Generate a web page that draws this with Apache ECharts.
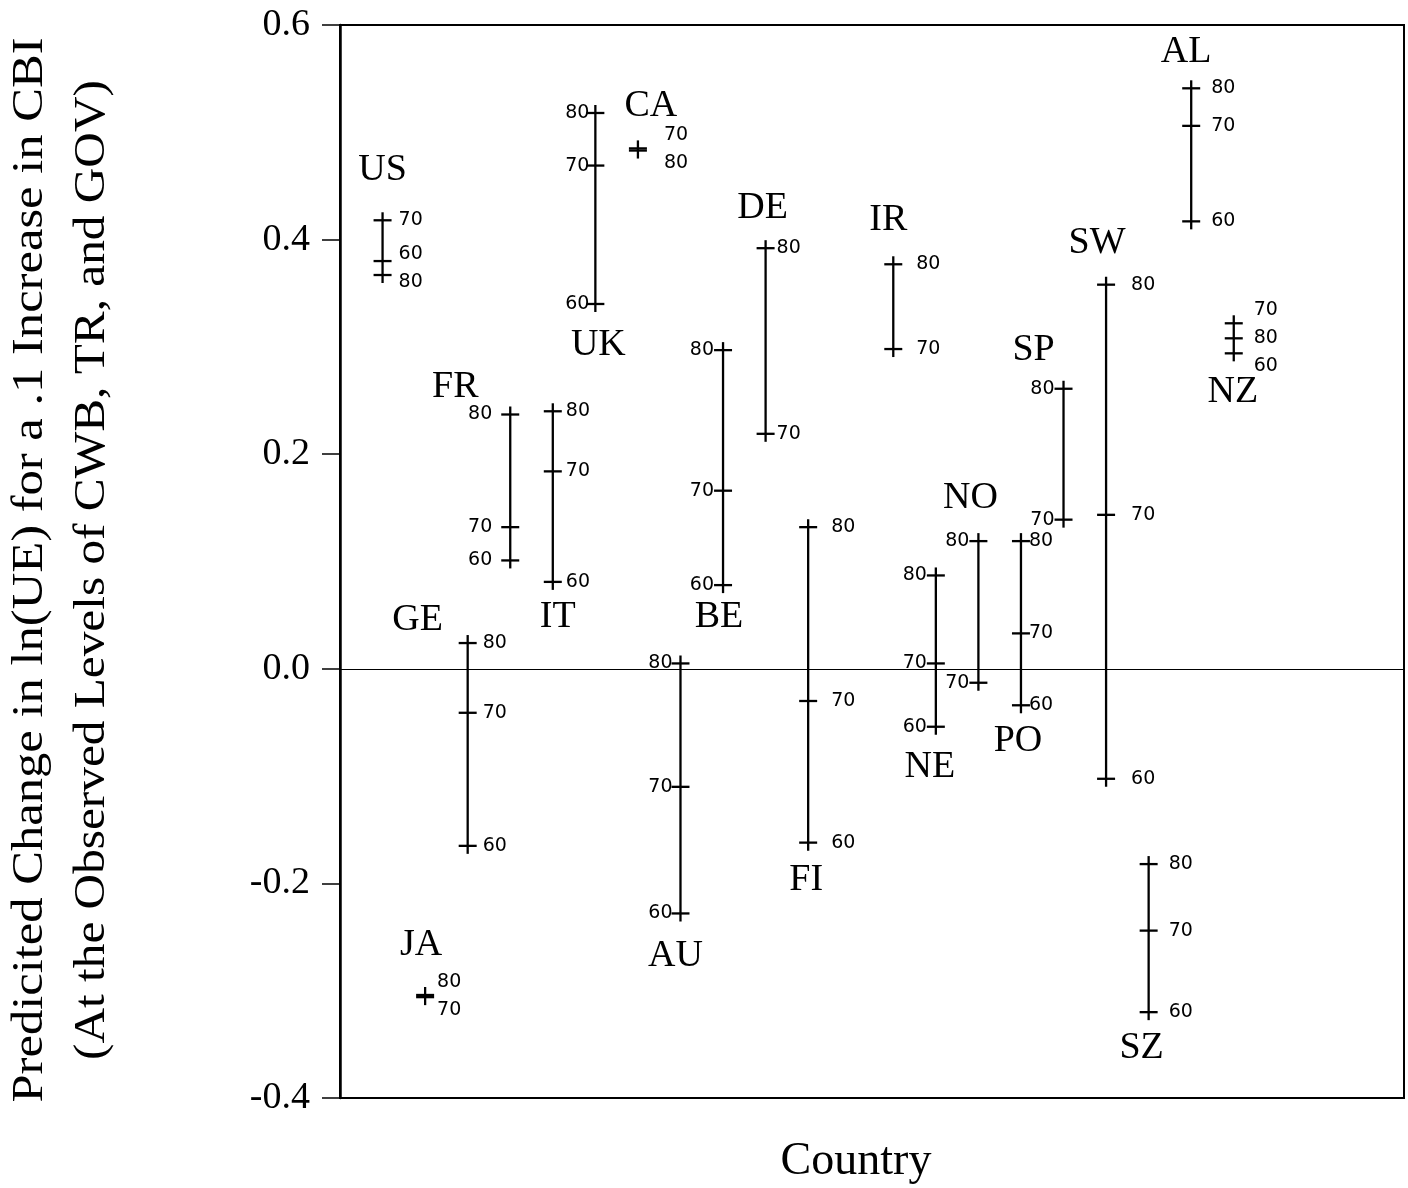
<!DOCTYPE html>
<html>
<head>
<meta charset="utf-8">
<title>Predicted change in ln(UE) by country</title>
<script src="https://cdn.jsdelivr.net/npm/echarts@6/dist/echarts.min.js"></script>
<style>
  html, body { margin: 0; padding: 0; background: #fff; }
  #chart { width: 1408px; height: 1188px; }
</style>
</head>
<body>
<div id="chart"></div>
<script>
// Country codes and their slot along the (unlabelled) horizontal axis
const countries = ['US','JA','GE','FR','IT','UK','CA','AU','BE','DE','FI','IR','NE','NO','PO','SP','SW','SZ','AL','NZ'];
const slots     = [1, 2, 3, 4, 5, 6, 7, 8, 9, 10, 11, 13, 14, 15, 16, 17, 18, 19, 20, 21];

// Predicted change at the observed levels of each decade (null = not observed)
const decade60 = [0.380, null, -0.165, 0.101, 0.081, 0.340, null, -0.228, 0.078, null, -0.162, null, -0.054, null, -0.034, null, -0.1025, -0.320, 0.417, 0.294];
const decade70 = [0.418, -0.306, -0.041, 0.132, 0.184, 0.469, 0.485, -0.110, 0.166, 0.219, -0.030, 0.298, 0.005, -0.013, 0.033, 0.139, 0.1435, -0.244, 0.506, 0.322];
const decade80 = [0.367, -0.304, 0.024, 0.237, 0.240, 0.518, 0.483, 0.005, 0.297, 0.392, 0.132, 0.377, 0.087, 0.119, 0.119, 0.261, 0.358, -0.182, 0.541, 0.308];

const decades = ['60', '70', '80'];
const yTicks = [-0.4, -0.2, 0.0, 0.2, 0.4, 0.6];

// Where the decade numbers and the country code sit around each mark
const markLayout = {
  US: { side: 'R', gap: 16, nameAt: 'top',    dx: 0,   dy: -50 },
  JA: { side: 'R', gap: 12, nameAt: 'top',    dx: -4,  dy: -50 },
  GE: { side: 'R', gap: 15, nameAt: 'top',    dx: -50, dy: -23 },
  FR: { side: 'L', gap: 18, nameAt: 'top',    dx: -55, dy: -27 },
  IT: { side: 'R', gap: 13, nameAt: 'bottom', dx: 5,   dy: 35 },
  UK: { side: 'L', gap: 6,  nameAt: 'bottom', dx: 3,   dy: 41 },
  CA: { side: 'R', gap: 26, nameAt: 'top',    dx: 13,  dy: -42 },
  AU: { side: 'L', gap: 8,  nameAt: 'bottom', dx: -5,  dy: 43 },
  BE: { side: 'L', gap: 9,  nameAt: 'bottom', dx: -4,  dy: 32 },
  DE: { side: 'R', gap: 11, nameAt: 'top',    dx: -3,  dy: -40 },
  FI: { side: 'R', gap: 23, nameAt: 'bottom', dx: -2,  dy: 37 },
  IR: { side: 'R', gap: 23, nameAt: 'top',    dx: -5,  dy: -44 },
  NE: { side: 'L', gap: 9,  nameAt: 'bottom', dx: -6,  dy: 40 },
  NO: { side: 'L', gap: 9,  nameAt: 'top',    dx: -8,  dy: -43 },
  PO: { side: 'R', gap: 8,  nameAt: 'bottom', dx: -3,  dy: 36 },
  SP: { side: 'L', gap: 9,  nameAt: 'top',    dx: -30, dy: -39 },
  SW: { side: 'R', gap: 25, nameAt: 'top',    dx: -9,  dy: -42 },
  SZ: { side: 'R', gap: 20, nameAt: 'bottom', dx: -7,  dy: 36 },
  AL: { side: 'R', gap: 20, nameAt: 'top',    dx: -5,  dy: -36 },
  NZ: { side: 'R', gap: 20, nameAt: 'bottom', dx: -1,  dy: 39 }
};

const SERIF = '"Liberation Serif", "Times New Roman", serif';
const SANS = '"DejaVu Sans", sans-serif';
const INK = '#000';

const chart = echarts.init(document.getElementById('chart'), null, { renderer: 'canvas' });

function renderMark(params, api) {
  const i = params.dataIndex;
  const code = countries[i];
  const lay = markLayout[code];
  const vals = [decade60[i], decade70[i], decade80[i]];
  const pts = [];
  vals.forEach(function (v, k) {
    if (v !== null) pts.push({ dec: decades[k], p: api.coord([slots[i], v]) });
  });
  const cx = pts[0].p[0];
  const ys = pts.map(function (d) { return d.p[1]; });
  const top = Math.min.apply(null, ys);
  const bot = Math.max.apply(null, ys);
  const line = { stroke: INK, lineWidth: 2.3 };
  const children = [];

  // vertical stem, running a little past the end ticks
  children.push({ type: 'line', shape: { x1: cx, y1: top - 8, x2: cx, y2: bot + 8 }, style: line });
  // one cross bar per decade
  pts.forEach(function (d) {
    children.push({ type: 'line', shape: { x1: cx - 9, y1: d.p[1], x2: cx + 9, y2: d.p[1] }, style: line });
  });

  // decade numbers, nudged apart where the ticks crowd together
  const order = pts.slice().sort(function (a, b) { return a.p[1] - b.p[1]; });
  const ly = order.map(function (d) { return d.p[1]; });
  const minGap = 28;
  for (let pass = 0; pass < 40; pass++) {
    for (let j = 1; j < ly.length; j++) {
      const d = ly[j] - ly[j - 1];
      if (d < minGap) {
        const push = (minGap - d) / 2;
        ly[j - 1] -= push;
        ly[j] += push;
      }
    }
  }
  order.forEach(function (d, j) {
    const right = lay.side === 'R';
    children.push({
      type: 'text',
      x: right ? cx + lay.gap : cx - lay.gap,
      y: ly[j],
      style: {
        text: d.dec,
        fill: INK,
        font: '19px ' + SANS,
        textAlign: right ? 'left' : 'right',
        textVerticalAlign: 'middle'
      }
    });
  });

  // country code
  children.push({
    type: 'text',
    x: cx + lay.dx,
    y: (lay.nameAt === 'top' ? top : bot) + lay.dy,
    style: {
      text: code,
      fill: INK,
      font: '38px ' + SERIF,
      textAlign: 'center',
      textVerticalAlign: 'middle'
    }
  });

  return { type: 'group', children: children };
}

const option = {
  backgroundColor: '#fff',
  animation: false,
  grid: {
    left: 340, right: 4, top: 25, bottom: 90,
    show: true, borderColor: INK, borderWidth: 2, backgroundColor: 'transparent'
  },
  xAxis: {
    type: 'value', min: 0, max: 25,
    axisLine: { show: false }, axisTick: { show: false },
    axisLabel: { show: false }, splitLine: { show: false }
  },
  yAxis: {
    type: 'value', min: yTicks[0], max: yTicks[yTicks.length - 1], interval: 0.2,
    axisLine: { show: true, lineStyle: { color: INK, width: 2.5 } },
    axisTick: { show: true, length: 18, lineStyle: { color: INK, width: 1.5 } },
    axisLabel: {
      margin: 30, color: INK, fontFamily: SERIF, fontSize: 38,
      formatter: function (v) { return v.toFixed(1); }
    },
    splitLine: { show: false }
  },
  graphic: [
    {
      type: 'text', x: 30, y: 570, rotation: Math.PI / 2, scaleX: 1.15,
      style: {
        text: 'Predicited Change in ln(UE) for a .1 Increase in CBI',
        fill: INK, font: '44px ' + SERIF, textAlign: 'center', textVerticalAlign: 'middle'
      }
    },
    {
      type: 'text', x: 92, y: 570, rotation: Math.PI / 2, scaleX: 1.12,
      style: {
        text: '(At the Observed Levels of CWB, TR, and GOV)',
        fill: INK, font: '44px ' + SERIF, textAlign: 'center', textVerticalAlign: 'middle'
      }
    },
    {
      type: 'text', x: 856, y: 1162,
      style: {
        text: 'Country',
        fill: INK, font: '46px ' + SERIF, textAlign: 'center', textVerticalAlign: 'middle'
      }
    }
  ],
  series: [
    {
      type: 'custom',
      renderItem: renderMark,
      data: countries.map(function (c, i) { return [slots[i], decade70[i]]; }),
      encode: { x: 0, y: 1 },
      clip: false,
      markLine: {
        silent: true, symbol: 'none', label: { show: false },
        lineStyle: { color: INK, width: 1, type: 'solid' },
        data: [{ yAxis: 0 }]
      }
    }
  ]
};

chart.setOption(option);
</script>
</body>
</html>
